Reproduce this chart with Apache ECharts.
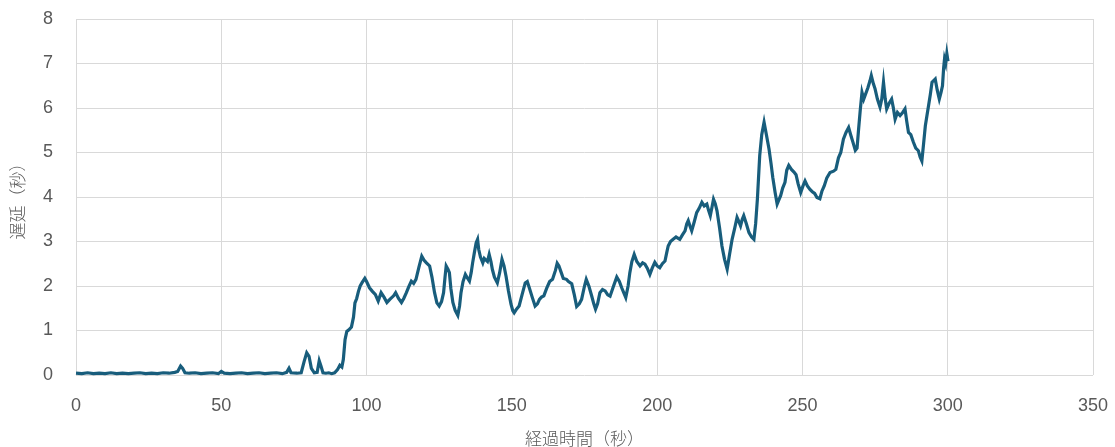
<!DOCTYPE html>
<html>
<head>
<meta charset="utf-8">
<script src="https://cdn.jsdelivr.net/npm/echarts@6/dist/echarts.min.js"></script>
<style>
  html, body { margin: 0; padding: 0; background: #ffffff; }
  #chart { width: 1115px; height: 447px; }
</style>
</head>
<body>
<div id="chart"></div>
<script>
// Elapsed time (s)
const seconds = [
  0, 2, 4, 6, 8, 10, 12, 14, 16, 18, 20, 22, 24, 26, 28, 30, 32, 34, 35, 36, 36.7, 37.5, 39, 41, 43, 45, 47, 49, 50, 51,
  53, 55, 57, 59, 61, 63, 65, 67, 69, 71, 72.5, 73.3, 74, 76, 77.5, 78.5, 79.4, 80.2, 81, 82, 83, 83.7, 84.3, 85, 86, 87,
  88, 89, 90, 90.8, 91.5, 92, 92.6, 93.2, 94, 94.8, 95.5, 96, 96.6, 97.2, 97.8, 98.5, 99.4,
  100, 101, 102, 103, 104, 105, 106, 107, 108, 108.6, 109.3, 110, 111, 112, 112.8, 113.7, 114.5, 115.4, 116.2, 117, 118,
  119, 119.8, 120.6, 121.2, 121.7, 122.5, 123.4, 124.2, 125, 125.8, 126.5, 127, 127.4, 128, 128.5, 129, 129.7, 130.5,
  131.4, 132, 132.5, 133.2, 134, 134.7, 135.4, 136, 136.5, 137.1, 137.7, 138.2, 138.6, 139.2, 140, 140.5, 141, 141.6,
  142.2, 142.8, 143.3, 144, 145, 145.8, 146.6, 147.3, 148, 148.8, 149.7, 150.3, 150.8, 151.6, 152.5, 153.5, 154.6, 155.3,
  156, 157, 158, 158.8, 159.5, 160.2, 161, 162, 163, 164, 165, 165.6, 166.2, 167, 167.7, 168.8, 169.5, 170.6, 171.5,
  172.3, 173.2, 174, 175, 175.6, 176.5, 177.5, 178.2, 178.8, 179.5, 180.3, 181.2, 182.1, 183, 183.8, 185, 186.1, 187,
  187.8, 188.5, 189.2, 190, 190.6, 191.3, 192.1, 193, 194.1, 195, 195.8, 196.6, 197.5, 198.3, 199.2, 200, 200.9, 201.8,
  202.7, 203.3, 203.8, 204.6, 205.5, 206.5, 207.8, 208.7, 209.6, 210.2, 210.7, 211.3, 211.9, 212.8, 213.6, 214.5, 215.4,
  216.2, 217.1, 217.7, 218.3, 218.9, 219.4, 220, 220.6, 221.5, 222.3, 223.2, 224.1, 224.9, 225.8, 226.7, 227.5, 228.1,
  228.7, 229.3, 229.8, 230.7, 231.6, 232.5, 233.3, 233.9, 234.5, 235.3, 236, 236.8, 237.6, 238.5, 239.2, 239.8, 240.6,
  241.3, 242, 242.5, 243.2, 244, 244.6, 245.3, 246.2, 247.1, 247.8, 248.5, 249.4, 250.2, 250.9, 251.7, 252.6, 253.4,
  254.2, 255, 256, 256.7, 257.5, 258.4, 259.5, 260.7, 261.5, 262.4, 263.2, 264.1, 265, 265.9, 266.6, 267.3, 268.2,
  268.8, 269.3, 269.9, 270.5, 271.1, 271.6, 272.5, 273.2, 273.7, 274.4, 275, 275.8, 276.7, 277.3, 277.9, 278.5, 279,
  279.8, 280.7, 281.3, 281.9, 282.7, 283.6, 284.5, 285.3, 285.9, 286.5, 287.3, 288.2, 289, 289.9, 290.5, 291.1, 291.7,
  292.3, 292.9, 293.4, 294, 294.6, 295.2, 295.7, 296.4, 297.1, 297.7, 298.2, 298.6, 298.9, 299.3, 299.7, 300.1
];

// Delay (s) at each elapsed time
const delay = [
  0.04, 0.03, 0.05, 0.03, 0.04, 0.03, 0.05, 0.03, 0.04, 0.03, 0.04, 0.05, 0.03, 0.04, 0.03, 0.05, 0.04, 0.06, 0.08, 0.2, 0.15, 0.05, 0.04, 0.05, 0.03, 0.04, 0.05, 0.03, 0.08, 0.04,
  0.03, 0.04, 0.05, 0.03, 0.04, 0.05, 0.03, 0.04, 0.05, 0.03, 0.06, 0.15, 0.05, 0.04, 0.05, 0.3, 0.5, 0.42, 0.15, 0.05, 0.06, 0.32, 0.2, 0.05, 0.04, 0.05,
  0.03, 0.05, 0.12, 0.22, 0.18, 0.35, 0.8, 0.98, 1.02, 1.08, 1.3, 1.62, 1.72, 1.88, 2.0, 2.08, 2.17,
  2.1, 1.96, 1.88, 1.81, 1.66, 1.85, 1.75, 1.63, 1.7, 1.66, 1.78, 1.85, 1.72, 1.63, 1.72, 1.85, 1.98, 2.11, 2.06, 2.15, 2.42,
  2.67, 2.58, 2.52, 2.55, 2.45, 2.2, 1.85, 1.62, 1.55, 1.65, 1.85, 2.2, 2.45, 2.38, 2.3, 1.95, 1.63, 1.45,
  1.34, 1.55, 1.85, 2.1, 2.26, 2.18, 2.11, 2.3, 2.52, 2.75, 2.97, 3.05, 2.82, 2.65, 2.52, 2.62, 2.6, 2.55,
  2.71, 2.55, 2.37, 2.2, 2.07, 2.3, 2.6, 2.45, 2.22, 1.9, 1.59, 1.45, 1.4, 1.48, 1.55, 1.8, 2.07, 2.1,
  1.96, 1.75, 1.55, 1.6, 1.7, 1.75, 1.78, 1.95, 2.1, 2.15, 2.35, 2.51, 2.45, 2.3, 2.17, 2.15, 2.1, 2.05, 1.8,
  1.54, 1.6, 1.7, 2.0, 2.15, 2.0, 1.77, 1.6, 1.48, 1.6, 1.85, 1.92, 1.89, 1.8, 1.77, 2.0, 2.2, 2.1,
  1.96, 1.85, 1.74, 2.0, 2.3, 2.55, 2.71, 2.55, 2.45, 2.52, 2.49, 2.4, 2.26, 2.4, 2.53, 2.45, 2.41, 2.5,
  2.56, 2.75, 2.9, 3.0, 3.05, 3.1, 3.05, 3.15, 3.24, 3.4, 3.47, 3.35, 3.24, 3.45, 3.65, 3.75, 3.88,
  3.8, 3.84, 3.7, 3.58, 3.78, 3.95, 3.85, 3.69, 3.3, 2.9, 2.6, 2.38, 2.7, 3.05, 3.3, 3.54, 3.45,
  3.35, 3.5, 3.58, 3.4, 3.2, 3.1, 3.05, 3.4, 3.95, 4.93, 5.4, 5.68, 5.4, 5.08, 4.75, 4.44, 4.1,
  3.84, 3.95, 4.03, 4.2, 4.33, 4.6, 4.71, 4.62, 4.56, 4.5, 4.3, 4.1, 4.25, 4.36, 4.25, 4.17, 4.12,
  4.08, 3.99, 3.96, 4.13, 4.25, 4.43, 4.55, 4.58, 4.62, 4.88, 5.0, 5.3, 5.45, 5.56, 5.4, 5.25, 5.05,
  5.1, 5.5, 5.95, 6.35, 6.2, 6.22, 6.45, 6.6, 6.73, 6.55, 6.43, 6.2, 6.02, 6.2, 6.58, 6.2, 5.98,
  6.1, 6.2, 6.0, 5.75, 5.9, 5.83, 5.9, 5.98, 5.7, 5.45, 5.4, 5.23, 5.1, 5.04, 4.9, 4.81, 5.2,
  5.6, 5.85, 6.05, 6.3, 6.58, 6.6, 6.65, 6.4, 6.2, 6.35, 6.5, 6.9, 7.1, 7.0, 7.22, 7.05
];

const points = seconds.map((t, i) => [t, delay[i]]);

const labelColor = '#595959';
const gridColor = '#d9d9d9';
const latinFont = '"Liberation Sans", Arial, sans-serif';
const cjkFont = '"Noto Sans CJK JP", sans-serif';

const chart = echarts.init(document.getElementById('chart'));
chart.setOption({
  animation: false,
  backgroundColor: '#ffffff',
  grid: { left: 76, right: 22, top: 19, bottom: 72, containLabel: false, outerBoundsMode: 'none' },
  xAxis: {
    type: 'value',
    min: 0,
    max: 350,
    interval: 50,
    name: '経過時間（秒）',
    nameLocation: 'middle',
    nameGap: 55,
    nameTextStyle: { color: labelColor, fontSize: 17, fontFamily: cjkFont, fontWeight: 300 },
    axisLine: { show: false },
    axisTick: { show: false },
    axisLabel: { color: labelColor, fontSize: 18, fontFamily: latinFont, margin: 22 },
    splitLine: { show: true, lineStyle: { color: gridColor, width: 1 } }
  },
  yAxis: {
    type: 'value',
    min: 0,
    max: 8,
    interval: 1,
    name: '遅延（秒）',
    nameLocation: 'middle',
    nameGap: 50,
    nameRotate: 90,
    nameTextStyle: { color: labelColor, fontSize: 17, fontFamily: cjkFont, fontWeight: 300 },
    axisLine: { show: false },
    axisTick: { show: false },
    axisLabel: { color: labelColor, fontSize: 18, fontFamily: latinFont, margin: 23 },
    splitLine: { show: true, lineStyle: { color: gridColor, width: 1 } }
  },
  series: [{
    type: 'line',
    data: points,
    showSymbol: false,
    symbol: 'none',
    smooth: false,
    lineStyle: { color: '#185d7c', width: 3.2, join: 'miter' },
    z: 3
  }]
});
</script>
</body>
</html>
